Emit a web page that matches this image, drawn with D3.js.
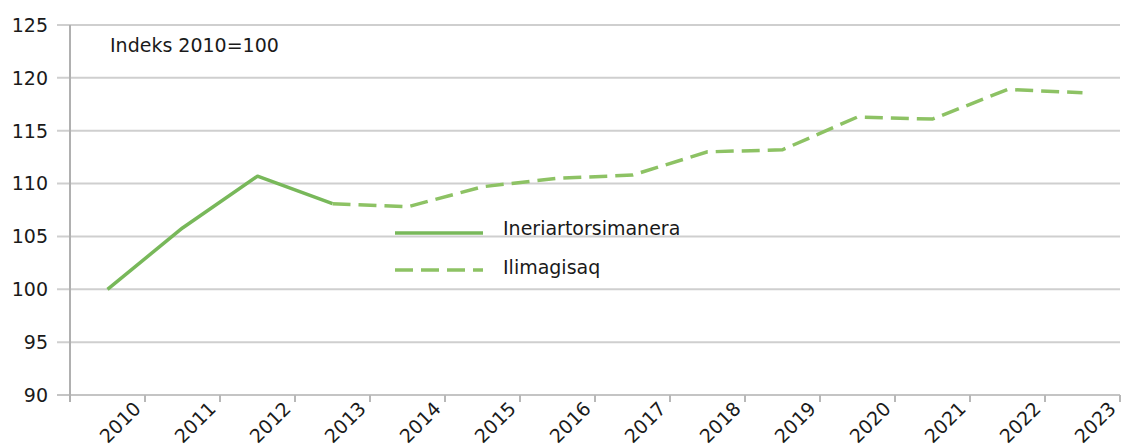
<!DOCTYPE html>
<html>
<head>
<meta charset="utf-8">
<script src="https://cdn.jsdelivr.net/npm/d3@7"></script>
<style>
  body { margin: 0; background: #fff; }
  text { font-family: "DejaVu Sans", sans-serif; fill: #1a1a1a; }
</style>
</head>
<body>
<svg id="chart" width="1122" height="446"></svg>
<script>
// categories (years) on the x axis
var years = [2010, 2011, 2012, 2013, 2014, 2015, 2016, 2017, 2018, 2019, 2020, 2021, 2022, 2023];

// realised values, index 2010=100 (solid line)
var actualYears = [2010, 2011, 2012, 2013];
var actualValues = [100, 105.8, 110.7, 108.1];

// projection (dashed line)
var forecastYears = [2013, 2014, 2015, 2016, 2017, 2018, 2019, 2020, 2021, 2022, 2023];
var forecastValues = [108.1, 107.8, 109.7, 110.5, 110.8, 113.0, 113.2, 116.3, 116.1, 118.9, 118.6];

var yTicks = [90, 95, 100, 105, 110, 115, 120, 125];
var legendLabels = ["Ineriartorsimanera", "Ilimagisaq"];
var noteText = "Indeks 2010=100";

var solidColor = "#78b85a";
var dashColor = "#8dc264";

var svg = d3.select("#chart");

var x = d3.scaleBand().domain(years).range([70, 1120]);
var y = d3.scaleLinear().domain([90, 125]).range([395, 25]);

// horizontal gridlines
svg.append("g").selectAll("line")
    .data(yTicks)
    .enter().append("line")
    .attr("x1", 57).attr("x2", 1120)
    .attr("y1", function(d){ return y(d); })
    .attr("y2", function(d){ return y(d); })
    .attr("stroke", function(d){ return d == 90 ? "#c4c4c4" : "#cfcfcf"; })
    .attr("stroke-width", 2);

// y axis line
svg.append("line")
    .attr("x1", 70).attr("x2", 70)
    .attr("y1", y(125)).attr("y2", y(90) + 7)
    .attr("stroke", "#b0b0b0").attr("stroke-width", 2);

// x ticks at the band boundaries
svg.append("g").selectAll("line")
    .data(years)
    .enter().append("line")
    .attr("x1", function(d){ return x(d) + x.bandwidth(); })
    .attr("x2", function(d){ return x(d) + x.bandwidth(); })
    .attr("y1", y(90)).attr("y2", y(90) + 7)
    .attr("stroke", "#b8b8b8").attr("stroke-width", 2);

// y tick labels
svg.append("g").selectAll("text")
    .data(yTicks)
    .enter().append("text")
    .attr("x", 48)
    .attr("y", function(d){ return y(d); })
    .attr("dy", "0.36em")
    .attr("text-anchor", "end")
    .style("font-size", "19px")
    .text(function(d){ return d; });

// rotated x labels
svg.append("g").selectAll("text")
    .data(years)
    .enter().append("text")
    .attr("transform", function(d){
        return "translate(" + (x(d) + x.bandwidth() - 3) + "," + (y(90) + 15) + ") rotate(-45)";
    })
    .attr("text-anchor", "end")
    .style("font-size", "19px")
    .text(function(d){ return d; });

var line = d3.line()
    .x(function(d){ return x(d[0]) + x.bandwidth() / 2; })
    .y(function(d){ return y(d[1]); });

svg.append("path")
    .datum(d3.zip(actualYears, actualValues))
    .attr("d", line)
    .attr("fill", "none")
    .attr("stroke", solidColor)
    .attr("stroke-width", 3.5)
    .attr("stroke-linejoin", "round");

svg.append("path")
    .datum(d3.zip(forecastYears, forecastValues))
    .attr("d", line)
    .attr("fill", "none")
    .attr("stroke", dashColor)
    .attr("stroke-width", 3.5)
    .attr("stroke-dasharray", "18,8");

// note
svg.append("text")
    .attr("x", 110).attr("y", 52)
    .style("font-size", "19px")
    .text(noteText);

// legend
var legend = svg.append("g");
legend.append("line")
    .attr("x1", 395).attr("x2", 483)
    .attr("y1", 233).attr("y2", 233)
    .attr("stroke", solidColor).attr("stroke-width", 3.5);
legend.append("line")
    .attr("x1", 395).attr("x2", 483)
    .attr("y1", 270).attr("y2", 270)
    .attr("stroke", dashColor).attr("stroke-width", 3.5)
    .attr("stroke-dasharray", "18,8");
legend.selectAll("text")
    .data(legendLabels)
    .enter().append("text")
    .attr("x", 503)
    .attr("y", function(d, i){ return 235 + i * 39; })
    .style("font-size", "19px")
    .text(function(d){ return d; });
</script>
</body>
</html>
